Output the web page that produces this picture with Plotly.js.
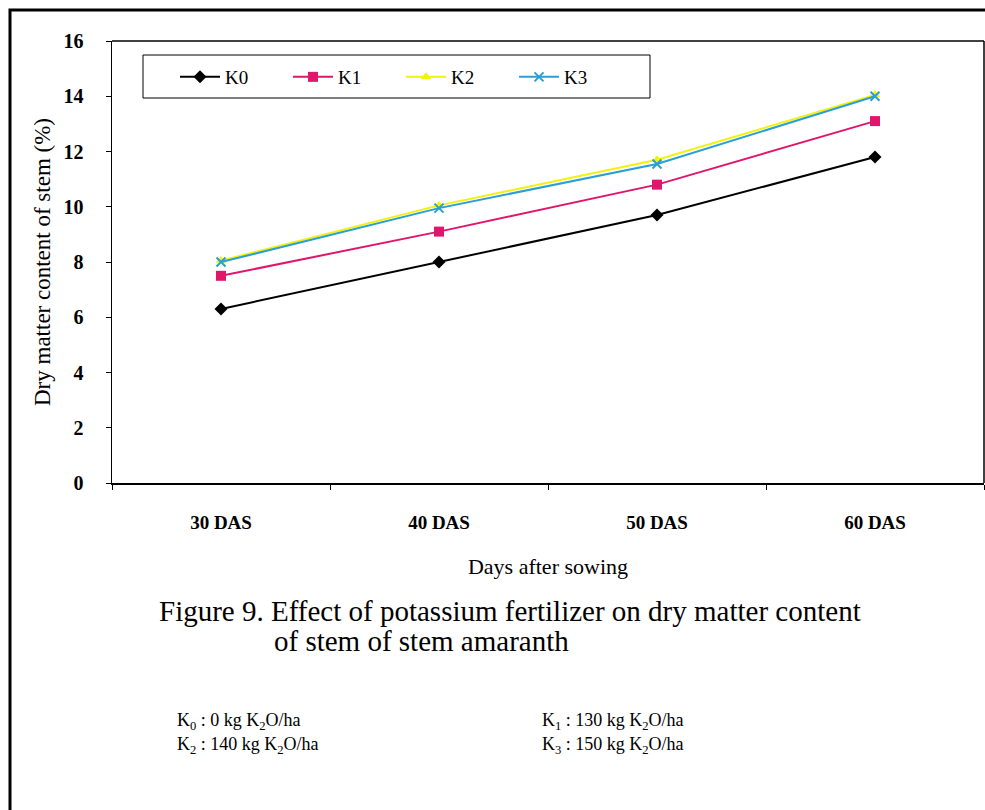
<!DOCTYPE html>
<html>
<head>
<meta charset="utf-8">
<script src="https://cdn.plot.ly/plotly-3.0.1.min.js"></script>
<style>
  html, body { margin: 0; padding: 0; background: #fff; }
  #chart { width: 985px; height: 810px; }
</style>
</head>
<body>
<div id="chart"></div>
<script>
// ---- data ----
const categories = ['30 DAS', '40 DAS', '50 DAS', '60 DAS'];
const seriesNames = ['K0', 'K1', 'K2', 'K3'];
const k0 = [6.3, 8.0, 9.7, 11.8];
const k1 = [7.5, 9.1, 10.8, 13.1];
const k2 = [8.05, 10.05, 11.7, 14.05];
const k3 = [8.0, 9.95, 11.55, 14.0];
const yTicks = [0, 2, 4, 6, 8, 10, 12, 14, 16];

const FONT = 'Liberation Serif, Times New Roman, serif';

// pixel -> paper helpers (plot area 112..984 x, 41..483 y)
const L = 112, R = 984, T = 41, B = 483;
const px = x => (x - L) / (R - L);
const py = y => (B - y) / (B - T);

const styles = [
  {color: '#000000', symbol: 'diamond', size: 10, mline: 0},
  {color: '#e0166c', symbol: 'square', size: 10, mline: 0},
  {color: '#f2f20a', symbol: 'triangle-up', size: 9, mline: 0},
  {color: '#2a9fd6', symbol: 'x-thin-open', size: 9, mline: 2}
];
const values = [k0, k1, k2, k3];

const traces = values.map((v, i) => ({
  type: 'scatter',
  mode: 'lines+markers',
  name: seriesNames[i],
  x: categories,
  y: v,
  line: {color: styles[i].color, width: 2},
  marker: {
    color: styles[i].color,
    symbol: styles[i].symbol,
    size: styles[i].size,
    line: {color: i === 3 ? '#3aa06a' : styles[i].color, width: styles[i].mline}
  }
}));

const ann = (text, x, y, size, anchor) => ({
  text: text, xref: 'paper', yref: 'paper', x: px(x), y: py(y),
  xanchor: anchor || 'left', yanchor: 'middle', showarrow: false,
  font: {family: FONT, size: size, color: '#000'}
});

const layout = {
  width: 985, height: 810,
  paper_bgcolor: '#ffffff', plot_bgcolor: '#ffffff',
  margin: {l: L, r: 985 - R, t: T, b: 810 - B, pad: 0},
  font: {family: FONT, color: '#000'},
  showlegend: true,
  legend: {
    orientation: 'h',
    x: px(175), y: py(58), xanchor: 'left', yanchor: 'top',
    bgcolor: 'rgba(0,0,0,0)', bordercolor: '#000', borderwidth: 0,
    font: {family: FONT, size: 19, color: '#000'},
    itemwidth: 40,
    entrywidth: 58, entrywidthmode: 'pixels',
    traceorder: 'normal'
  },
  xaxis: {
    type: 'category',
    range: [-0.5, 3.5],
    showline: true, linecolor: '#000', linewidth: 1.5,
    mirror: false,
    showgrid: false, zeroline: false,
    ticks: 'outside', ticklen: 5, tickcolor: '#000', tickson: 'boundaries',
    tickfont: {family: FONT, size: 19, color: '#000', weight: 'bold'},
    ticklabelstandoff: 22,
    title: {text: 'Days after sowing', font: {family: FONT, size: 22, color: '#000'}, standoff: 26}
  },
  yaxis: {
    range: [0, 16],
    tickvals: yTicks,
    showline: true, linecolor: '#000', linewidth: 1.5,
    showgrid: false, zeroline: false,
    ticks: 'outside', ticklen: 5, tickcolor: '#000',
    tickfont: {family: FONT, size: 20, color: '#000', weight: 'bold'},
    ticklabelstandoff: 18,
    title: {text: 'Dry matter content of stem (%)', font: {family: FONT, size: 23, color: '#000'}, standoff: 6}
  },
  shapes: [
    // plot area border top & right
    {type: 'line', xref: 'paper', yref: 'paper', x0: 0, x1: 1, y0: 1, y1: 1, line: {color: '#000', width: 1.5}},
    {type: 'line', xref: 'paper', yref: 'paper', x0: 1, x1: 1, y0: 0, y1: 1, line: {color: '#000', width: 1.5}},
    // legend box
    {type: 'rect', xref: 'paper', yref: 'paper', x0: px(143), x1: px(650), y0: py(98), y1: py(55),
     line: {color: '#000', width: 1}, fillcolor: 'rgba(0,0,0,0)'},
    // figure frame
    {type: 'rect', xref: 'paper', yref: 'paper', x0: px(10), x1: px(1010), y0: py(830), y1: py(10),
     line: {color: '#000', width: 3}}
  ],
  annotations: [
    ann('Figure 9. Effect of potassium fertilizer on dry matter content', 157, 611, 29),
    ann('of stem of stem amaranth', 272, 641, 29),
    ann('K<sub>0</sub> : 0 kg K<sub>2</sub>O/ha', 175, 722, 18),
    ann('K<sub>2</sub> : 140 kg K<sub>2</sub>O/ha', 175, 745, 18),
    ann('K<sub>1</sub> : 130 kg K<sub>2</sub>O/ha', 540, 722, 18),
    ann('K<sub>3</sub> : 150 kg K<sub>2</sub>O/ha', 540, 745, 18)
  ]
};

Plotly.newPlot('chart', traces, layout, {staticPlot: true, displayModeBar: false});
</script>
</body>
</html>
